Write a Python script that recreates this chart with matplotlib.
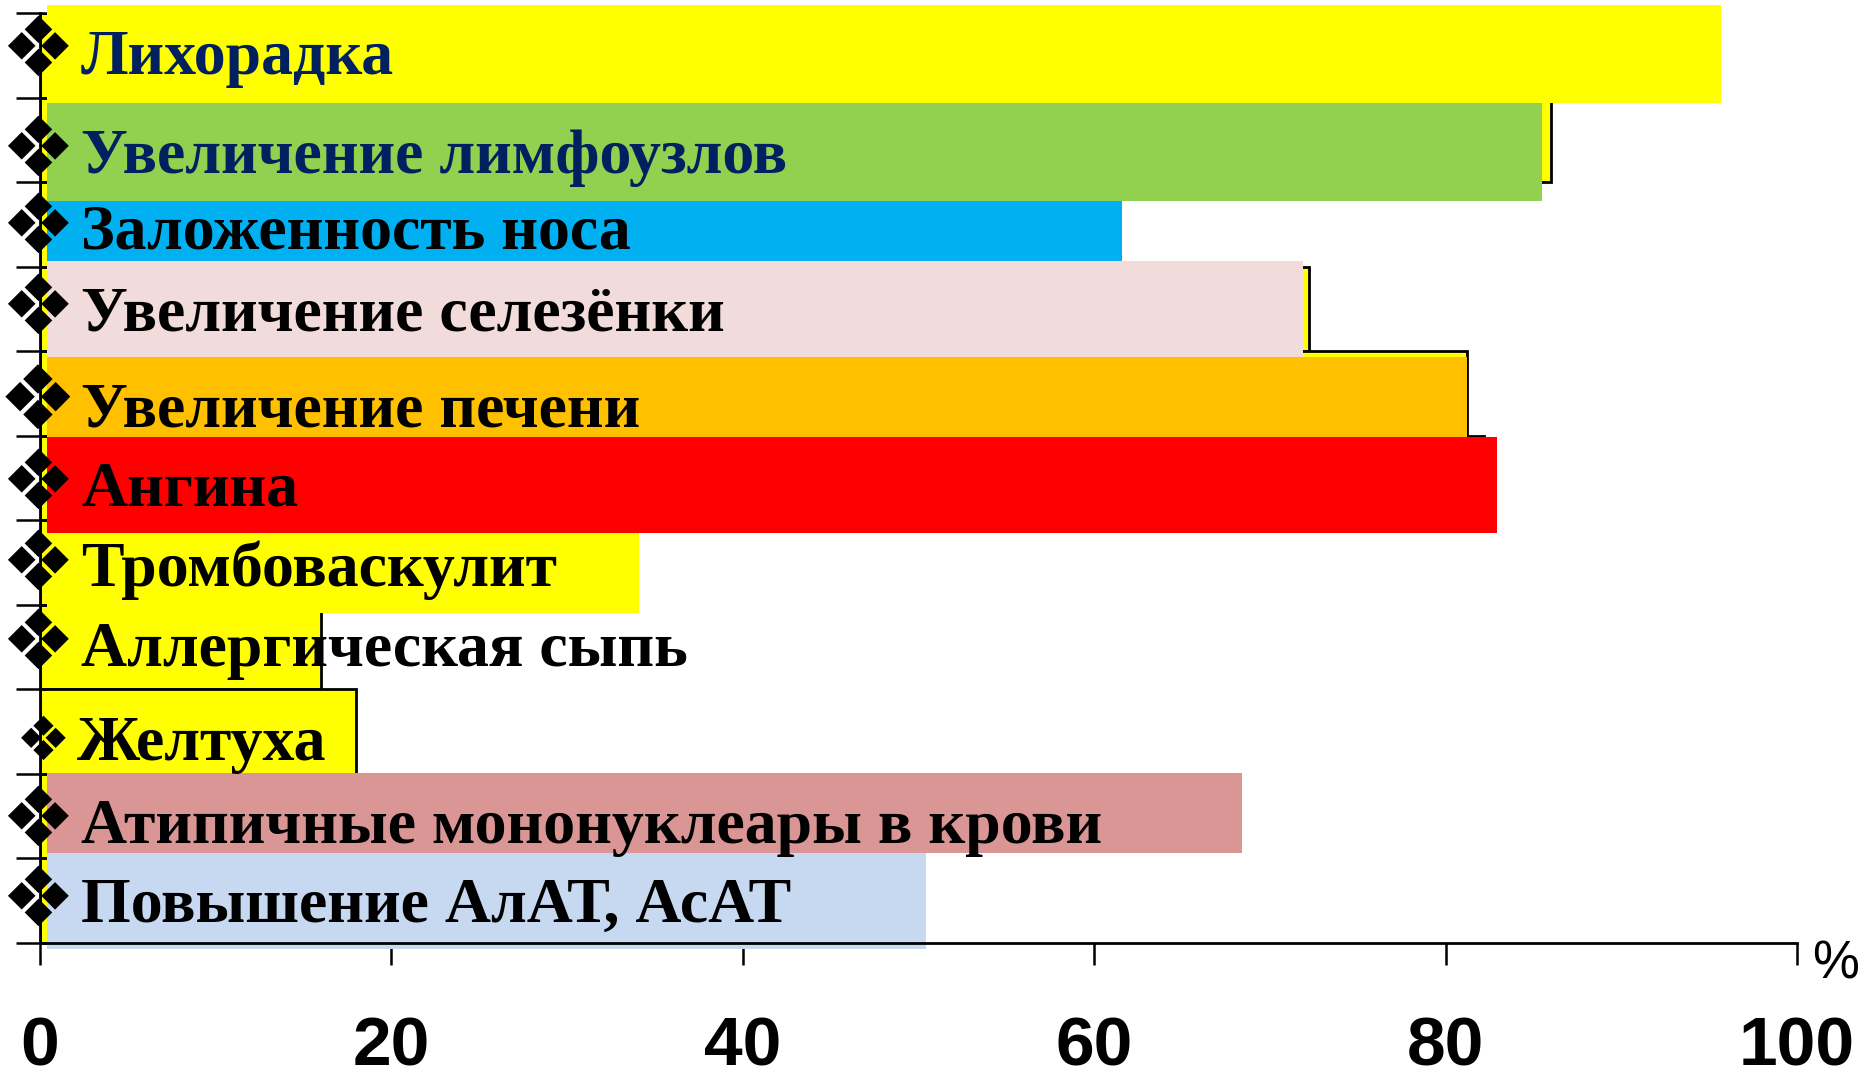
import matplotlib
matplotlib.use("Agg")
import matplotlib.pyplot as plt

# symptoms, top to bottom
symptoms = [
    "Лихорадка",
    "Увеличение лимфоузлов",
    "Заложенность носа",
    "Увеличение селезёнки",
    "Увеличение печени",
    "Ангина",
    "Тромбоваскулит",
    "Аллергическая сыпь",
    "Желтуха",
    "Атипичные мононуклеары в крови",
    "Повышение АлАТ, АсАТ",
]
# base bar chart, % of patients
base_pct = [95.5, 86, 61, 72.2, 81.2, 82.2, 34, 16, 18, 50, 50]
# coloured label boxes laid over the chart (None = no box)
box_pct = [95.7, 85.5, 61.6, 71.9, 81.2, 82.9, 34.1, None, None, 68.4, 50.4]
box_colors = ["#FFFF00", "#92D050", "#00B0F0", "#F2DCDB", "#FFC000", "#FF0000",
              "#FFFF00", None, None, "#D99694", "#C6D9F1"]
text_colors = ["#002060", "#002060"] + ["black"] * 9
xticks = [0, 20, 40, 60, 80, 100]

# box extents (top, bottom) and label baselines, in category units
box_spans = [(-0.095, 1.064), (1.064, 2.223), (2.223, 2.933), (2.933, 4.069),
             (4.069, 5.015), (5.015, 6.15), (6.15, 7.096), None, None,
             (8.989, 9.935), (9.935, 11.07)]
baselines = [0.72, 1.89, 2.79, 3.75, 4.885, 5.83, 6.78, 7.72, 8.835, 9.82, 10.75]
bullet_y = [0.47, 1.645, 2.555, 3.513, 4.636, 5.582, 6.54, 7.475, 8.635, 9.57, 10.515]
bullet_size = [60, 60, 60, 60, 64, 60, 60, 60, 44, 60, 60]

fig = plt.figure(figsize=(18.66, 10.76), dpi=100)
ax = fig.add_axes([40 / 1866, 1 - 943 / 1076, 1757 / 1866, 930 / 1076])

n = len(symptoms)
ys = [i + 0.5 for i in range(n)]
ax.barh(ys, base_pct, height=1.0, color="#FFFF00", edgecolor="black",
        linewidth=2.0, zorder=1)

for i in range(n):
    if box_pct[i] is None:
        continue
    top, bot = box_spans[i]
    ax.barh((top + bot) / 2, box_pct[i] - 0.4, left=0.4, height=bot - top,
            color=box_colors[i], linewidth=0, zorder=2, clip_on=False)

for i, name in enumerate(symptoms):
    x = 2.1 if name == "Желтуха" else 2.33
    ax.text(x, baselines[i], name, family="Liberation Serif", weight="bold",
            fontsize=46, color=text_colors[i], va="baseline", ha="left",
            zorder=3)
    bx = 0.2 if name == "Желтуха" else -0.15
    ax.text(bx, bullet_y[i], "\u2756", family="DejaVu Sans",
            fontsize=bullet_size[i], color="black", va="center", ha="center",
            zorder=4, clip_on=False)

ax.set_xlim(0, 100)
ax.set_ylim(n, 0)
ax.set_xticks(xticks)
ax.set_xticklabels([str(t) for t in xticks], family="Liberation Sans",
                   weight="bold", fontsize=50)
ax.set_yticks(range(n + 1))
ax.set_yticks(range(n + 1), minor=True)
ax.yaxis.remove_overlapping_locs = False
ax.set_yticklabels([])
ax.tick_params(axis="x", direction="out", length=16, width=1.8, pad=36)
ax.tick_params(axis="y", which="major", direction="out", length=17, width=1.8)
ax.tick_params(axis="y", which="minor", direction="in", length=5, width=1.8)

for side in ("top", "right"):
    ax.spines[side].set_visible(False)
for side in ("left", "bottom"):
    ax.spines[side].set_linewidth(2.0)

ax.text(102.2, 11.25, "%", family="Liberation Sans", fontsize=38,
        ha="center", va="center", clip_on=False)

fig.savefig("out.png", dpi=100)
